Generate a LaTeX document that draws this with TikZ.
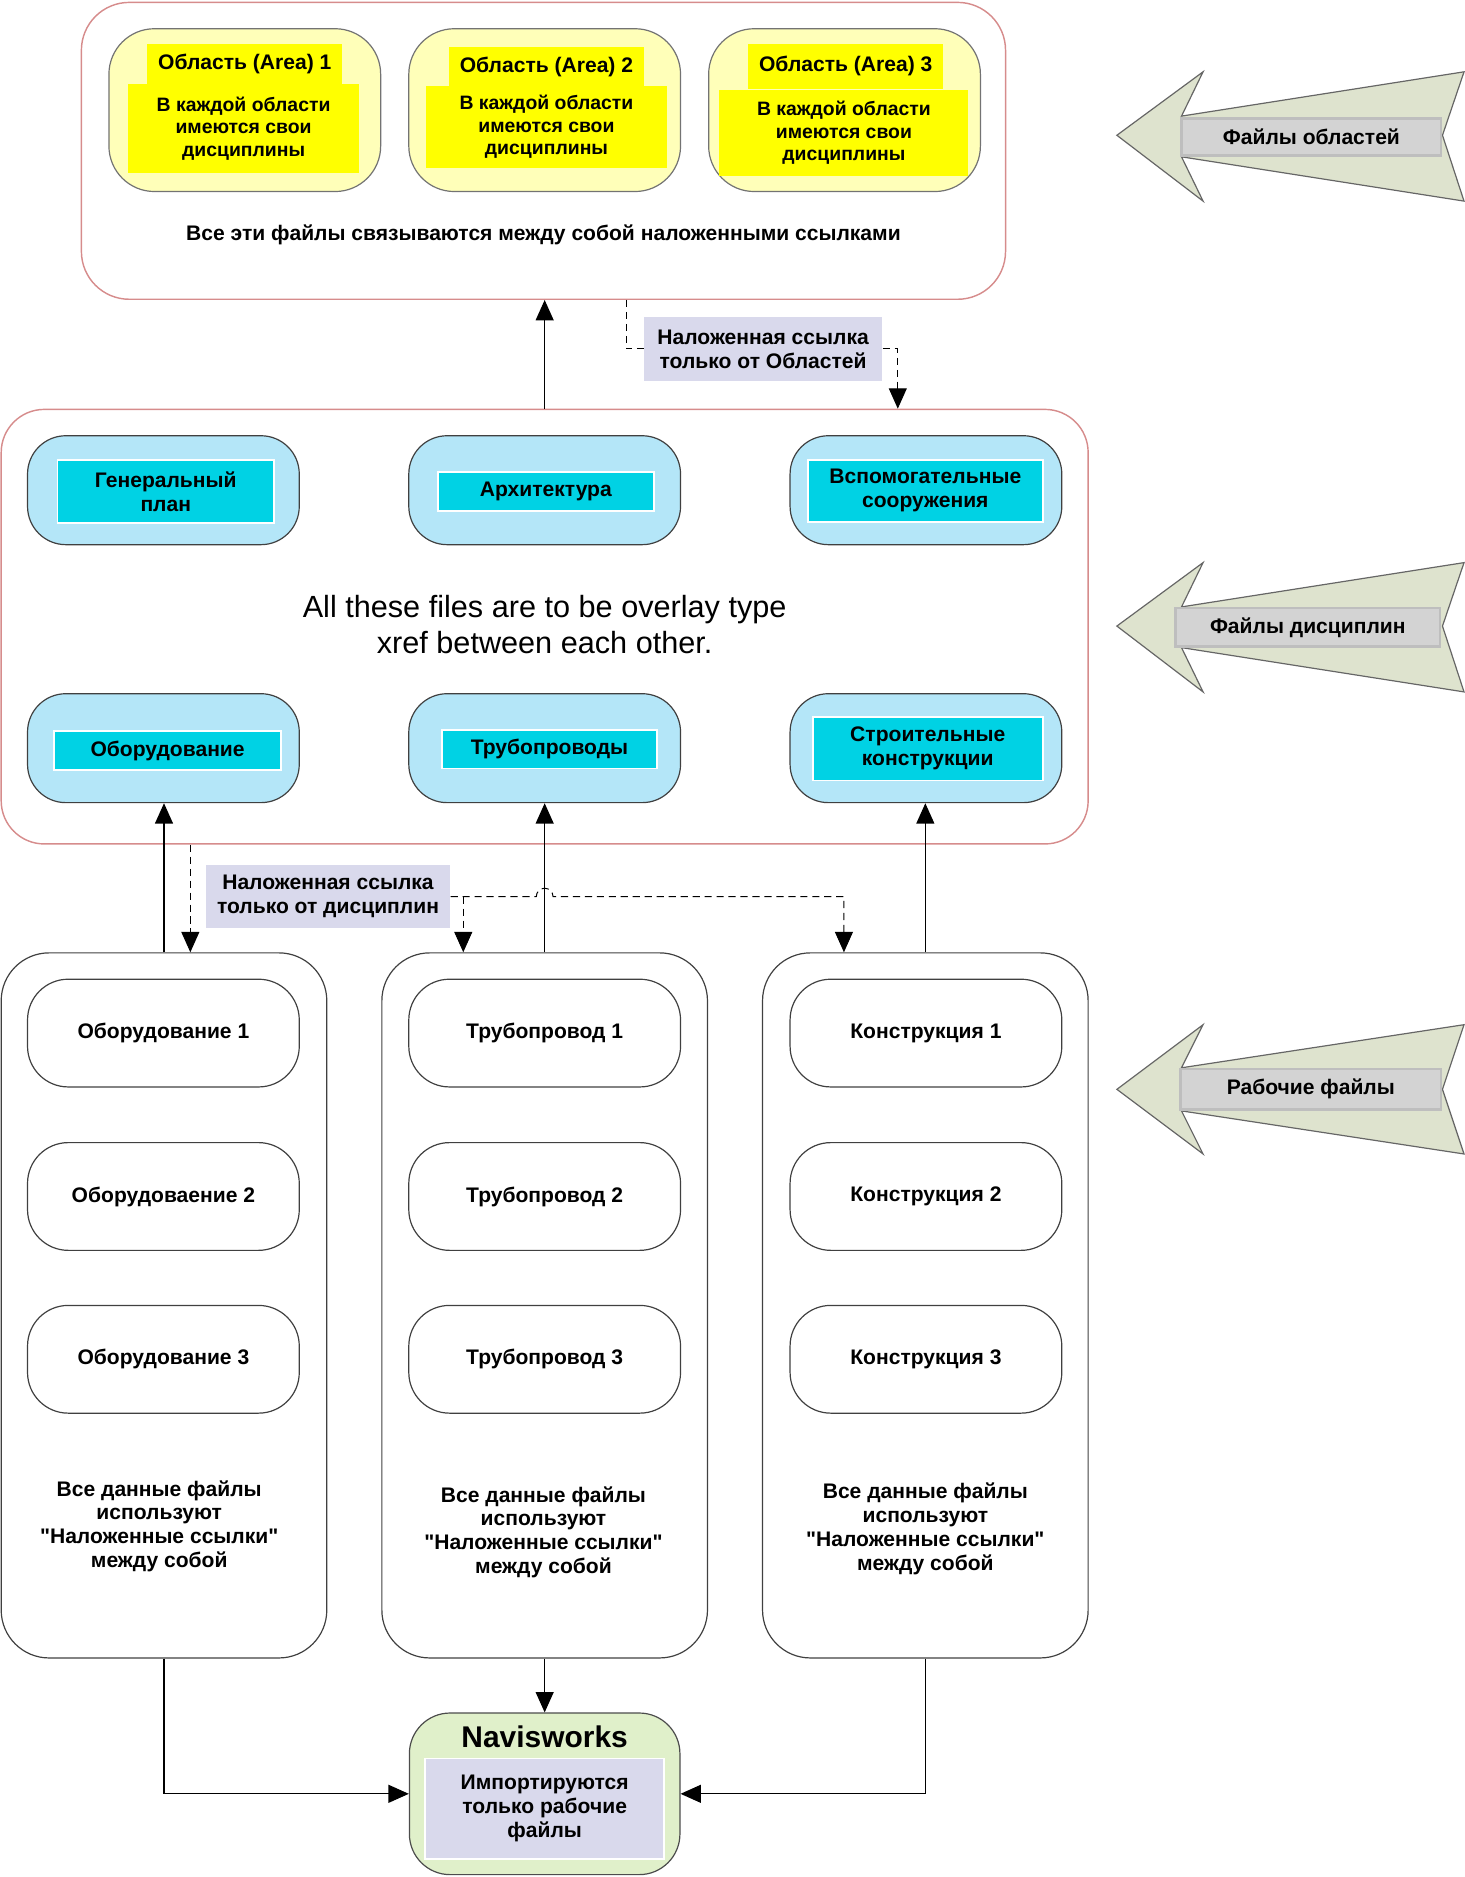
\documentclass[tikz,border=0pt]{standalone}
\usepackage{fontspec}
\setmainfont{Liberation Sans}[Ligatures=TeXOff]
\usetikzlibrary{arrows.meta}

\definecolor{framered}{RGB}{214,140,140}
\definecolor{areafill}{RGB}{255,255,185}
\definecolor{areatitle}{RGB}{255,255,0}
\definecolor{discfill}{RGB}{180,230,248}
\definecolor{disctitle}{RGB}{0,210,228}
\definecolor{notefill}{RGB}{217,217,236}
\definecolor{navfill}{RGB}{224,240,202}
\definecolor{bigarrow}{RGB}{222,227,206}
\definecolor{tagfill}{RGB}{211,211,211}
\definecolor{tagdraw}{RGB}{190,190,190}

\begin{document}
\begin{tikzpicture}[x=0.5pt,y=-0.5pt,
  >={Triangle[width=7.5pt,length=8.5pt]},
  every node/.style={font=\fontsize{8.8}{10}\selectfont\bfseries, align=center, inner sep=0pt},
  groupframe/.style={draw=framered, line width=0.6pt, rounded corners=20pt},
  areabox/.style={draw=black!55, fill=areafill, line width=0.5pt, rounded corners=19pt, minimum width=113.5pt, minimum height=68pt},
  areatag/.style={fill=areatitle, minimum width=81.5pt, minimum height=16.5pt},
  areabody/.style={fill=areatitle, minimum height=37pt, font=\fontsize{8.1}{9.3}\selectfont\bfseries},
  discbox/.style={draw=black!75, fill=discfill, line width=0.5pt, rounded corners=16pt, minimum width=113.5pt, minimum height=45.5pt},
  disctag/.style={draw=white, line width=0.8pt, fill=disctitle},
  filebox/.style={draw=black!75, line width=0.5pt, rounded corners=17pt, minimum width=113.5pt, minimum height=45pt},
  filecol/.style={draw=black!75, line width=0.5pt, rounded corners=20pt, minimum width=136pt, minimum height=294.5pt},
  xreftag/.style={fill=notefill, minimum height=26.5pt},
  navbox/.style={draw=black!70, fill=navfill, line width=0.5pt, rounded corners=17pt, minimum width=113pt, minimum height=67.5pt},
  dashlink/.style={dash pattern=on 3pt off 2pt, line width=0.4pt},
  solidlink/.style={line width=0.5pt},
  sidearrow/.style={draw=black!60, fill=bigarrow, line width=0.5pt},
  sidetag/.style={draw=tagdraw, line width=1pt, fill=tagfill, minimum height=15.5pt}
]
\useasboundingbox (0,0) rectangle (1223.8,1568);

%% area files
\node[groupframe, minimum width=386pt, minimum height=124pt] (areas) at (454,126) {};
\node (areanote) at (454,196) {Все эти файлы связываются между собой наложенными ссылками};

\node[areabox] (area1) at (204.5,92) {};
\node[areatag] (area1t) at (204.5,53.5) {Область (Area) 1};
\node[areabody, minimum width=96.5pt] (area1b) at (203.5,107.5) {В каждой области\\имеются свои\\дисциплины};

\node[areabox] (area2) at (455,92) {};
\node[areatag] (area2t) at (456.5,56) {Область (Area) 2};
\node[areabody, minimum width=100.5pt, minimum height=34pt] (area2b) at (456.5,106) {В каждой области\\имеются свои\\дисциплины};

\node[areabox] (area3) at (705.5,92) {};
\node[areatag, minimum height=19pt] (area3t) at (706.5,55.5) {Область (Area) 3};
\node[areabody, minimum width=104pt, minimum height=36pt] (area3b) at (705,111) {В каждой области\\имеются свои\\дисциплины};

%% discipline files
\node[groupframe, rounded corners=18pt, minimum width=454pt, minimum height=181.5pt] (discs) at (455,523.5) {};
\node[font=\fontsize{12.8}{15}\selectfont] (discnote) at (455,522) {All these files are to be overlay type\\xref between each other.};

\node[discbox] (dgen) at (136.5,409.5) {};
\node[disctag, minimum width=90.5pt, minimum height=26.5pt] (tgen) at (138.5,410.5) {Генеральный\\план};
\node[discbox] (darch) at (455,409.5) {};
\node[disctag, minimum width=90pt, minimum height=16.5pt] (tarch) at (456,410.5) {Архитектура};
\node[discbox] (daux) at (773.5,409.5) {};
\node[disctag, minimum width=98pt, minimum height=26pt] (taux) at (773,410) {Вспомогательные\\сооружения};

\node[discbox] (dequip) at (136.5,625) {};
\node[disctag, minimum width=95pt, minimum height=16pt] (tequip) at (140,627) {Оборудование};
\node[discbox] (dpipe) at (455,625) {};
\node[disctag, minimum width=90pt, minimum height=16pt] (tpipe) at (459,626) {Трубопроводы};
\node[discbox] (dstruct) at (773.5,625) {};
\node[disctag, minimum width=96pt, minimum height=26.5pt] (tstruct) at (775,625.5) {Строительные\\конструкции};

%% working files
\node[filecol] (col1) at (137,1090.5) {};
\node[filebox] (f11) at (136.5,863) {Оборудование 1};
\node[filebox] (f12) at (136.5,999.5) {Оборудоваение 2};
\node[filebox] (f13) at (136.5,1135.5) {Оборудование 3};
\node (col1note) at (133,1275) {Все данные файлы\\используют\\"Наложенные ссылки"\\между собой};

\node[filecol] (col2) at (455,1090.5) {};
\node[filebox] (f21) at (455,863) {Трубопровод 1};
\node[filebox] (f22) at (455,999.5) {Трубопровод 2};
\node[filebox] (f23) at (455,1135.5) {Трубопровод 3};
\node (col2note) at (454,1280) {Все данные файлы\\используют\\"Наложенные ссылки"\\между собой};

\node[filecol] (col3) at (773,1090.5) {};
\node[filebox] (f31) at (773.5,863) {Конструкция 1};
\node[filebox] (f32) at (773.5,999.5) {Конструкция 2};
\node[filebox] (f33) at (773.5,1135.5) {Конструкция 3};
\node (col3note) at (773,1277) {Все данные файлы\\используют\\"Наложенные ссылки"\\между собой};

%% navisworks
\node[navbox] (navis) at (455,1498.5) {};
\node[font=\fontsize{12.5}{14}\selectfont\bfseries] (navtitle) at (455,1451) {Navisworks};
\node[xreftag, draw=white, line width=0.8pt, minimum width=100pt, minimum height=42pt] (navnote) at (455,1511) {Импортируются\\только рабочие\\файлы};

%% xref labels
\node[xreftag, minimum width=99.5pt] (tagxa) at (637.5,291.5) {Наложенная ссылка\\только от Областей};
\node[xreftag, minimum width=102pt] (tagxd) at (274,749) {Наложенная ссылка\\только от дисциплин};

%% links
\draw[solidlink,->] (discs.north) -- (discs.north |- areas.south);
\draw[dashlink] ([xshift=34.5pt]areas.south) |- (tagxa.west);
\draw[dashlink,->] (tagxa.east) -| ([xshift=147.5pt]discs.north);

\draw[dashlink,->] ([xshift=11pt]col1.north |- discs.south) -- ([xshift=11pt]col1.north);
\draw[dashlink,->] (tagxd.east) -- ([xshift=-3.5pt]tagxd.east -| col2.north) arc[start angle=180, end angle=0, radius=3.5pt] -| ([xshift=-34pt]col3.north);
\draw[dashlink,->] ([xshift=-34pt]col2.north |- tagxd.east) -- ([xshift=-34pt]col2.north);

\draw[solidlink,->] (col1.north) -- (col1.north |- dequip.south);
\draw[solidlink,->] (col2.north) -- (col2.north |- dpipe.south);
\draw[solidlink,->] (col3.north) -- (col3.north |- dstruct.south);

\draw[solidlink,->] (col2.south) -- (navis.north);
\draw[solidlink,->] (col1.south) |- (navis.west);
\draw[solidlink,->] (col3.south) |- (navis.east);

%% side arrows
\draw[sidearrow] (933,113) -- (1005,60) -- (987,97) -- (1223,60) -- (1205,113) -- (1223,168) -- (987,131) -- (1005,168) -- cycle;
\node[sidetag, minimum width=108.5pt] (tagareas) at (1095.5,114.5) {Файлы областей};

\draw[sidearrow] (933,523) -- (1005,470) -- (987,507) -- (1223,470) -- (1205,523) -- (1223,578) -- (987,541) -- (1005,578) -- cycle;
\node[sidetag, minimum width=110.5pt, minimum height=16pt] (tagdiscs) at (1092.5,524) {Файлы дисциплин};

\draw[sidearrow] (933,910) -- (1005,856) -- (987,892) -- (1223,856) -- (1205,910) -- (1223,964) -- (987,928) -- (1005,964) -- cycle;
\node[sidetag, minimum width=109pt, minimum height=17pt] (tagwork) at (1095,910) {Рабочие файлы};

\end{tikzpicture}
\end{document}
